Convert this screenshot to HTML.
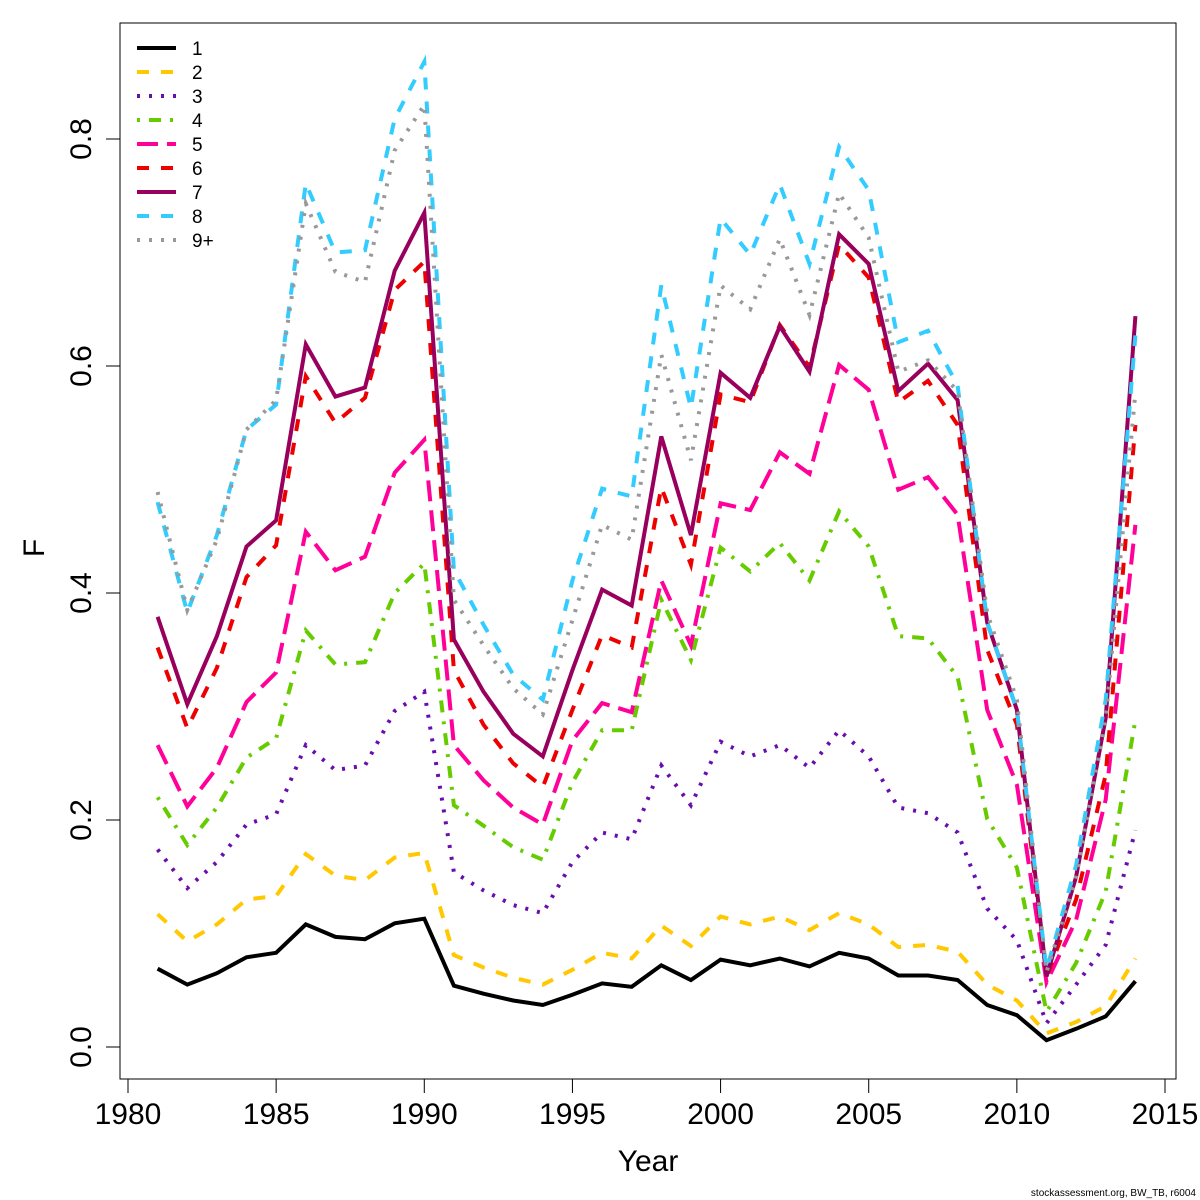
<!DOCTYPE html>
<html><head><meta charset="utf-8"><style>
html,body{margin:0;padding:0;background:#fff;}
svg{display:block;font-family:"Liberation Sans",sans-serif;}
</style></head><body>
<svg id="chart" width="1200" height="1200">
<rect x="0" y="0" width="1200" height="1200" fill="#fff"/>
</svg>
<script>
const years=[1981,1982,1983,1984,1985,1986,1987,1988,1989,1990,1991,1992,1993,1994,1995,1996,1997,1998,1999,2000,2001,2002,2003,2004,2005,2006,2007,2008,2009,2010,2011,2012,2013,2014];
const seriesNames=["1","2","3","4","5","6","7","8","9+"];
const age1=[0.069,0.055,0.065,0.079,0.083,0.108,0.097,0.095,0.109,0.113,0.054,0.047,0.041,0.037,0.046,0.056,0.053,0.072,0.059,0.077,0.072,0.078,0.071,0.083,0.078,0.063,0.063,0.059,0.037,0.028,0.006,0.016,0.027,0.058];
const age2=[0.117,0.093,0.108,0.130,0.133,0.170,0.151,0.147,0.167,0.171,0.081,0.070,0.061,0.055,0.068,0.083,0.078,0.107,0.089,0.115,0.108,0.115,0.103,0.118,0.108,0.088,0.090,0.084,0.055,0.041,0.012,0.022,0.036,0.078];
const age3=[0.174,0.140,0.163,0.196,0.205,0.266,0.244,0.248,0.296,0.313,0.154,0.138,0.125,0.118,0.163,0.189,0.183,0.248,0.213,0.269,0.256,0.266,0.246,0.279,0.256,0.211,0.206,0.189,0.122,0.094,0.021,0.055,0.090,0.191];
const age4=[0.220,0.178,0.211,0.255,0.272,0.367,0.337,0.339,0.400,0.426,0.213,0.195,0.176,0.165,0.233,0.279,0.279,0.394,0.341,0.440,0.419,0.444,0.411,0.472,0.441,0.362,0.360,0.326,0.201,0.158,0.031,0.074,0.137,0.288];
const age5=[0.266,0.212,0.246,0.304,0.330,0.454,0.420,0.432,0.506,0.535,0.266,0.235,0.211,0.196,0.270,0.303,0.295,0.411,0.354,0.479,0.473,0.524,0.505,0.601,0.579,0.491,0.502,0.469,0.297,0.231,0.057,0.112,0.218,0.460];
const age6=[0.352,0.281,0.334,0.414,0.442,0.591,0.550,0.572,0.667,0.692,0.332,0.284,0.250,0.229,0.297,0.363,0.352,0.493,0.425,0.575,0.568,0.636,0.599,0.707,0.678,0.568,0.587,0.548,0.350,0.284,0.062,0.130,0.240,0.548];
const age7=[0.379,0.302,0.362,0.441,0.464,0.619,0.573,0.581,0.684,0.735,0.359,0.313,0.276,0.256,0.332,0.403,0.389,0.538,0.451,0.594,0.572,0.635,0.595,0.716,0.690,0.578,0.602,0.570,0.374,0.297,0.062,0.150,0.290,0.644];
const age8=[0.480,0.383,0.451,0.544,0.566,0.761,0.700,0.702,0.818,0.868,0.420,0.372,0.328,0.306,0.411,0.492,0.485,0.671,0.563,0.730,0.698,0.760,0.690,0.793,0.755,0.621,0.631,0.583,0.374,0.297,0.068,0.160,0.306,0.627];
const age9=[0.489,0.385,0.447,0.544,0.570,0.743,0.683,0.674,0.790,0.830,0.394,0.354,0.316,0.293,0.376,0.460,0.447,0.610,0.517,0.671,0.650,0.712,0.645,0.752,0.713,0.595,0.605,0.578,0.382,0.306,0.066,0.150,0.288,0.577];
const xTicks=[1980,1985,1990,1995,2000,2005,2010,2015];
const yTicks=[0.0,0.2,0.4,0.6,0.8];
const yTickLabels=["0.0","0.2","0.4","0.6","0.8"];

const allSeries=[age1,age2,age3,age4,age5,age6,age7,age8,age9];
const colors=["#000000","#FFC800","#6A0DAD","#66CC00","#FF0099","#EE0000","#99005D","#33CCFF","#999999"];
const dashes=["","12,12","3,9","3,9,12,9","21,9","12,12","","12,12","3,9"];
const NS="http://www.w3.org/2000/svg";
const svg=document.getElementById('chart');
function X(y){return 128+(y-1980)*(1165-128)/35;}
function Y(v){return 1047-v*(1047-139)/0.8;}
function el(t,a,p){const e=document.createElementNS(NS,t);for(const k in a)e.setAttribute(k,a[k]);(p||svg).appendChild(e);return e;}

const box=el('rect',{x:120,y:23,width:1056,height:1056,fill:'none',stroke:'#000','stroke-width':1});



const xa=el('g',{});


el('line',{x1:X(1980),x2:X(2015),y1:1079,y2:1079,stroke:'#000'},xa);
xTicks.forEach(t=>{
  el('line',{x1:X(t),x2:X(t),y1:1079,y2:1093,stroke:'#000'},xa);
  const tx=el('text',{x:X(t),y:1124,'font-size':30,'text-anchor':'middle'},xa);
  tx.textContent=t;
  
  
});
const ya=el('g',{});


el('line',{x1:120,x2:120,y1:Y(0),y2:Y(0.8),stroke:'#000'},ya);
yTicks.forEach((t,i)=>{
  el('line',{x1:106,x2:120,y1:Y(t),y2:Y(t),stroke:'#000'},ya);
  const tx=el('text',{x:0,y:0,'font-size':30,'text-anchor':'middle',transform:`translate(91,${Y(t)}) rotate(-90)`},ya);
  tx.textContent=yTickLabels[i];
  
  
});
const xt=el('text',{x:648,y:1171,'font-size':30,'text-anchor':'middle'});
xt.textContent='Year';


const yt=el('text',{x:0,y:0,'font-size':30,'text-anchor':'middle',transform:'translate(44,548) rotate(-90)'});
yt.textContent='F';



allSeries.forEach((s,i)=>{
  const pts=s.map((v,j)=>X(years[j]).toFixed(1)+','+Y(v).toFixed(1)).join(' ');
  const p=el('polyline',{points:pts,fill:'none',stroke:colors[i],'stroke-width':4,'stroke-dasharray':dashes[i]});
  
  
});

const lg=el('g',{});


seriesNames.forEach((n,i)=>{
  const y=48+i*24;
  const g=el('g',{},lg);
  
  
  el('line',{x1:137,x2:176,y1:y,y2:y,stroke:colors[i],'stroke-width':4,'stroke-dasharray':dashes[i]},g);
  const t=el('text',{x:192,y:y+7,'font-size':19},g);
  t.textContent=n;
});
const ft=el('text',{x:1196,y:1196,'font-size':10,'text-anchor':'end'});
ft.textContent='stockassessment.org, BW_TB, r6004';


</script>
</body></html>
